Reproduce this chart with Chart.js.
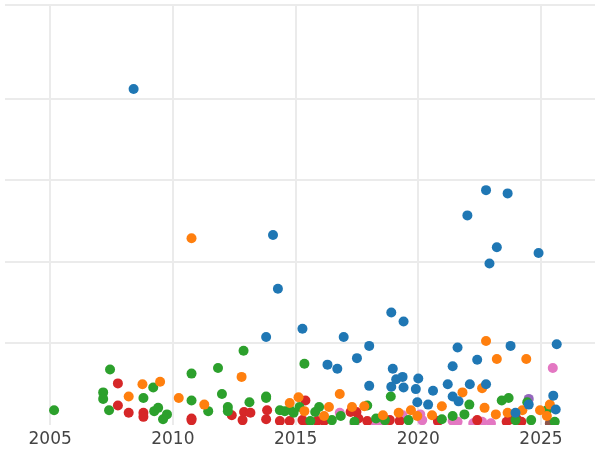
<!DOCTYPE html>
<html>
<head>
<meta charset="utf-8">
<script src="https://cdn.jsdelivr.net/npm/chart.js@4/dist/chart.umd.min.js"></script>
<style>
  html, body { margin: 0; padding: 0; background: #fff; }
  #wrap { width: 600px; height: 450px; }
</style>
</head>
<body>
<div id="wrap"><canvas id="scatter"></canvas></div>
<script>
// [year, value]
var blue = [[2008.4,4.12],[2014.08,2.33],[2014.28,1.67],[2013.8,1.08],[2015.28,1.18],[2016.3,0.74],[2016.7,0.69],[2016.96,1.08],[2017.5,0.82],[2018.0,0.97],[2018.0,0.48],[2018.9,1.38],[2019.4,1.27],[2018.96,0.69],[2019.1,0.56],[2019.36,0.59],[2018.9,0.47],[2019.4,0.46],[2019.9,0.44],[2020.0,0.57],[2019.96,0.28],[2020.4,0.25],[2020.6,0.42],[2021.2,0.5],[2021.4,0.72],[2021.6,0.95],[2022.0,2.57],[2022.76,2.88],[2023.64,2.84],[2023.2,2.18],[2022.9,1.98],[2024.9,2.11],[2022.4,0.8],[2022.1,0.5],[2022.76,0.5],[2023.76,0.97],[2025.64,0.99],[2025.5,0.36],[2025.6,0.19],[2021.4,0.35],[2021.64,0.29],[2023.96,0.15],[2024.5,0.25]];
var orange = [[2010.76,2.29],[2012.8,0.59],[2008.76,0.5],[2009.48,0.53],[2008.2,0.35],[2010.24,0.33],[2011.28,0.25],[2014.76,0.27],[2015.12,0.34],[2016.8,0.38],[2016.36,0.22],[2017.3,0.22],[2017.8,0.23],[2019.2,0.15],[2019.7,0.18],[2021.8,0.4],[2022.6,0.45],[2022.76,1.03],[2023.2,0.81],[2024.4,0.81],[2022.7,0.21],[2023.16,0.13],[2023.64,0.15],[2024.24,0.18],[2024.96,0.18],[2025.36,0.25],[2018.56,0.12],[2020.96,0.23],[2016.16,0.11],[2015.36,0.17],[2019.96,0.11],[2020.56,0.12],[2025.24,0.11]];
var green = [[2005.16,0.18],[2007.44,0.68],[2007.16,0.4],[2007.16,0.32],[2007.4,0.18],[2008.8,0.33],[2009.2,0.46],[2009.24,0.17],[2009.4,0.21],[2009.6,0.07],[2009.76,0.13],[2010.76,0.63],[2010.76,0.3],[2011.44,0.17],[2011.84,0.7],[2012.0,0.38],[2012.24,0.22],[2012.24,0.17],[2012.88,0.91],[2013.12,0.28],[2013.8,0.35],[2013.8,0.33],[2014.36,0.18],[2014.56,0.17],[2014.76,0.19],[2014.92,0.15],[2015.36,0.75],[2015.16,0.22],[2015.8,0.16],[2015.96,0.22],[2016.48,0.06],[2016.84,0.11],[2017.92,0.24],[2018.88,0.35],[2018.28,0.08],[2019.6,0.06],[2020.96,0.07],[2021.4,0.11],[2021.88,0.13],[2022.08,0.25],[2023.4,0.3],[2023.68,0.33],[2024.44,0.28],[2025.24,0.18],[2024.6,0.06],[2025.56,0.04],[2023.96,0.06],[2018.64,0.06],[2017.4,0.04],[2015.6,0.05]];
var red = [[2007.76,0.51],[2007.76,0.24],[2008.2,0.15],[2008.8,0.15],[2008.8,0.1],[2010.76,0.08],[2010.76,0.06],[2012.4,0.12],[2012.9,0.16],[2013.16,0.15],[2012.84,0.06],[2013.8,0.07],[2013.84,0.18],[2014.36,0.05],[2014.76,0.05],[2015.4,0.3],[2015.28,0.06],[2015.48,0.02],[2015.88,0.05],[2016.16,0.05],[2017.24,0.16],[2017.48,0.16],[2017.56,0.08],[2017.92,0.05],[2018.84,0.06],[2019.24,0.05],[2020.8,0.05],[2022.4,0.06],[2023.6,0.04],[2023.8,0.07],[2024.0,0.08],[2024.2,0.04]];
var purple = [[2024.5,0.32]];
var brown = [[2025.36,0.02]];
var pink = [[2025.48,0.7],[2016.8,0.15],[2017.4,0.01],[2018.2,0.02],[2018.56,0.02],[2019.28,0.07],[2019.36,0.12],[2020.08,0.13],[2020.16,0.06],[2020.8,0.04],[2021.4,0.05],[2021.6,0.04],[2022.24,0.02],[2022.6,0.04],[2022.96,0.02]];
var xTicks = [2005, 2010, 2015, 2020, 2025];

function pts(arr) {
  return arr.map(function (p) { return { x: p[0], y: p[1] }; });
}
function ds(arr, color) {
  return { data: pts(arr), backgroundColor: color, borderWidth: 0, pointRadius: 5, pointHoverRadius: 5 };
}

var ctx = document.getElementById("scatter").getContext('2d');
var chart = new Chart(ctx, {
  type: 'scatter',
  data: {
    datasets: [
      ds(blue, '#1f77b4'),
      ds(orange, '#ff7f0e'),
      ds(green, '#2ca02c'),
      ds(red, '#d62728'),
      ds(purple, '#9467bd'),
      ds(brown, '#8c564b'),
      ds(pink, '#e377c2')
    ]
  },
  options: {
    responsive: true,
    maintainAspectRatio: false,
    animation: false,
    layout: { padding: 0 },
    plugins: { legend: { display: false }, tooltip: { enabled: false } },
    scales: {
      x: {
        type: 'linear',
        min: 2003.16,
        max: 2027.2,
        afterBuildTicks: function (axis) {
          axis.ticks = xTicks.map(function (v) { return { value: v }; });
        },
        afterFit: function (axis) { axis.height = 25; },
        grid: { color: '#ebebeb', lineWidth: 2, drawTicks: false },
        border: { display: false },
        ticks: {
          color: '#444',
          font: { family: 'DejaVu Sans', size: 17 },
          padding: 4,
          maxRotation: 0,
          callback: function (v) { return String(v); }
        }
      },
      y: {
        min: 0,
        max: 5.15,
        afterFit: function (axis) { axis.width = 0; },
        ticks: { display: false, stepSize: 1 },
        grid: {
          lineWidth: 2,
          drawTicks: false,
          color: function (c) { return c.tick && c.tick.value === 0 ? 'rgba(0,0,0,0)' : '#ebebeb'; }
        },
        border: { display: false }
      }
    }
  }
});
</script>
</body>
</html>
